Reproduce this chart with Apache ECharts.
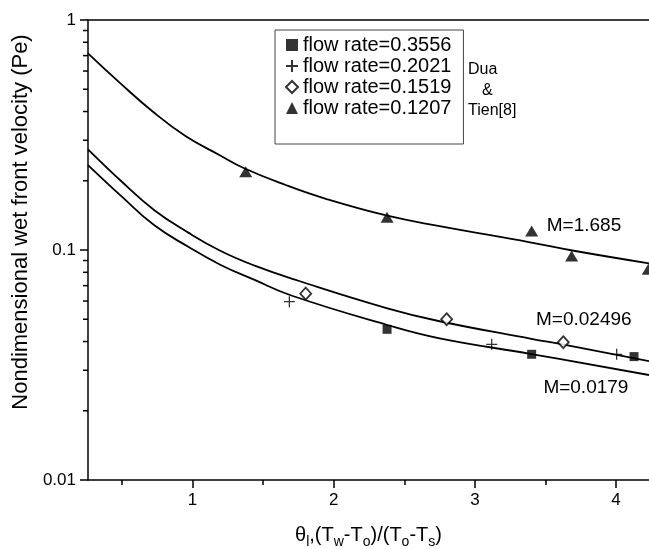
<!DOCTYPE html>
<html>
<head>
<meta charset="utf-8">
<script src="https://cdn.jsdelivr.net/npm/echarts@6/dist/echarts.min.js"></script>
<style>
html,body{margin:0;padding:0;background:#fff;}
#chart{width:649px;height:549px;}
</style>
</head>
<body>
<div id="chart"></div>
<script>
// ---- data ----
const xMin = 0.26, xMax = 4.233;
const yMin = 0.01, yMax = 1;
const xMajorTicks = [1, 2, 3, 4];
const xMinorTicks = [0.5, 1.5, 2.5, 3.5];
const yMinorTicks = [0.02,0.03,0.04,0.05,0.06,0.07,0.08,0.09,0.2,0.3,0.4,0.5,0.6,0.7,0.8,0.9];

const curveHighX = [0.26,0.48,0.72,0.95,1.19,1.37,1.66,1.95,2.38,2.75,3.39,3.69,4.233];
const curveHighY = [0.716,0.537,0.399,0.313,0.259,0.2261,0.1917,0.1666,0.141,0.127,0.108,0.0995,0.0875];
const curveMidX  = [0.26,0.50,0.73,0.97,1.20,1.44,1.75,2.38,2.75,3.40,3.63,4.233];
const curveMidY  = [0.274,0.198,0.149,0.119,0.0990,0.0855,0.0735,0.0558,0.0490,0.0411,0.0388,0.0329];
const curveLowX  = [0.26,0.50,0.73,0.97,1.20,1.44,1.70,2.38,2.75,3.40,4.233];
const curveLowY  = [0.234,0.1705,0.128,0.1033,0.0861,0.0741,0.0634,0.0472,0.0413,0.0353,0.0286];

const sqX = [2.378, 3.402, 4.127];
const sqY = [0.0452, 0.0352, 0.0344];
const plusX = [1.686, 3.119, 4.004];
const plusY = [0.0596, 0.0389, 0.0352];
const diaX = [1.802, 2.800, 3.626];
const diaY = [0.0646, 0.0500, 0.0397];
const triX = [1.377, 2.378, 3.402, 3.685, 4.228];
const triY = [0.219, 0.1387, 0.121, 0.0942, 0.0824];

const seriesNames = ['flow rate=0.3556','flow rate=0.2021','flow rate=0.1519','flow rate=0.1207'];
const curveLabels = ['M=1.685','M=0.02496','M=0.0179'];
const curveLabelX = [3.509, 3.433, 3.485];
const curveLabelY = [0.1275, 0.0496, 0.0253];
const refText = ['Dua', '&', 'Tien[8]'];

// ---- chart ----
const FONT = '"Liberation Sans", Arimo, Arial, sans-serif';
const zip = (a, b) => a.map((v, i) => [v, b[i]]);
const chart = echarts.init(document.getElementById('chart'), null, {renderer: 'canvas'});

const lineSeries = (xs, ys) => ({
  type: 'line', data: zip(xs, ys), showSymbol: false, symbol: 'none',
  smooth: 0.45,
  lineStyle: {color: '#000', width: 1.8}, z: 2, silent: true
});

const scat = (name, xs, ys, symbol, size, style) => ({
  name, type: 'scatter', data: zip(xs, ys), symbol, symbolSize: size,
  itemStyle: style, z: 5
});

const option = {
  animation: false,
  backgroundColor: '#fff',
  textStyle: {fontFamily: FONT},
  grid: {left: 88, right: 0, top: 20, bottom: 69, containLabel: false, outerBoundsMode: 'none'},
  xAxis: [
    {
      type: 'value', min: xMin, max: xMax, position: 'bottom',
      axisLine: {show: true, onZero: false, lineStyle: {color: '#000', width: 1.5}},
      axisTick: {show: true, inside: false, length: 8, customValues: xMajorTicks, lineStyle: {color: '#000', width: 1.5}},
      axisLabel: {show: true, customValues: xMajorTicks, margin: 12, fontSize: 17, color: '#000', fontFamily: FONT},
      splitLine: {show: false},
      name: '{t|θ}{s|l}{t|,(T}{s|w}{t|-T}{s|o}{t|)/(T}{s|o}{t|-T}{s|s}{t|)}',
      nameLocation: 'middle', nameGap: 45,
      nameTextStyle: {
        rich: {
          t: {fontSize: 20, lineHeight: 24, verticalAlign: 'top', color: '#000', fontFamily: FONT},
          s: {fontSize: 14, lineHeight: 14, padding: [12, 0, 0, 0], verticalAlign: 'bottom', color: '#000', fontFamily: FONT}
        }
      }
    },
    {
      type: 'value', min: xMin, max: xMax, position: 'bottom', gridIndex: 0,
      axisLine: {show: false, onZero: false},
      axisTick: {show: true, inside: false, length: 5, customValues: xMinorTicks, lineStyle: {color: '#000', width: 1.5}},
      axisLabel: {show: false}, splitLine: {show: false}
    },
    {
      type: 'value', min: xMin, max: xMax, position: 'top', gridIndex: 0,
      axisLine: {show: true, onZero: false, lineStyle: {color: '#000', width: 1.5}},
      axisTick: {show: false}, axisLabel: {show: false}, splitLine: {show: false}
    }
  ],
  yAxis: {
    type: 'log', logBase: 10, min: yMin, max: yMax,
    axisLine: {show: true, lineStyle: {color: '#000', width: 1.5}},
    axisTick: {show: true, inside: false, length: 8, lineStyle: {color: '#000', width: 1.5}},
    axisLabel: {margin: 12, fontSize: 17, color: '#000', fontFamily: FONT,
      formatter: v => String(+v.toPrecision(3))},
    splitLine: {show: false},
    minorTick: {show: false},
    name: 'Nondimensional wet front velocity (Pe)',
    nameLocation: 'middle', nameGap: 51,
    nameTextStyle: {fontSize: 22, color: '#000', fontFamily: FONT, padding: [0, 0, 0, 56]}
  },
  legend: {
    show: true, orient: 'vertical', left: 275, top: 30,
    data: seriesNames,
    itemWidth: 12, itemHeight: 12, itemGap: 1,
    padding: [5, 12, 26, 10],
    borderColor: '#444', borderWidth: 1, borderRadius: 0,
    backgroundColor: '#fff',
    textStyle: {fontSize: 20, lineHeight: 20, color: '#000', fontFamily: FONT},
    selectedMode: false
  },
  series: [
    lineSeries(curveHighX, curveHighY),
    lineSeries(curveMidX, curveMidY),
    lineSeries(curveLowX, curveLowY),
    scat(seriesNames[0], sqX, sqY, 'rect', 9, {color: '#000'}),
    scat(seriesNames[1], plusX, plusY, 'path://M0,5L10,5M5,0L5,10', 11,
         {color: '#000', borderColor: '#000', borderWidth: 1.3}),
    scat(seriesNames[2], diaX, diaY, 'diamond', [11, 12], {color: '#fff', borderColor: '#000', borderWidth: 1.8}),
    scat(seriesNames[3], triX, triY, 'triangle', [13, 11], {color: '#000'}),
    {
      type: 'custom', silent: true, clip: false, z: 3,
      data: yMinorTicks.map(v => [xMin, v]),
      renderItem: (params, api) => {
        const p = api.coord([api.value(0), api.value(1)]);
        return {type: 'line', shape: {x1: p[0] - 5, y1: p[1], x2: p[0], y2: p[1]},
                style: {stroke: '#000', lineWidth: 1.5}};
      }
    }
  ]
};
chart.setOption(option);

// annotations anchored in data coordinates
const gfx = curveLabels.map((t, i) => {
  const p = chart.convertToPixel({gridIndex: 0}, [curveLabelX[i], curveLabelY[i]]);
  return {type: 'text', x: p[0], y: p[1], z: 10,
          style: {text: t, fontSize: 19, fontFamily: FONT, fill: '#000', verticalAlign: 'middle', align: 'left'}};
});
const refPos = [[468, 70], [482, 91], [468, 111]];
refText.forEach((t, i) => {
  gfx.push({type: 'text', x: refPos[i][0], y: refPos[i][1], z: 10,
            style: {text: t, fontSize: 16, fontFamily: FONT, fill: '#000', verticalAlign: 'middle', align: 'left'}});
});
chart.setOption({graphic: gfx});
</script>
</body>
</html>
